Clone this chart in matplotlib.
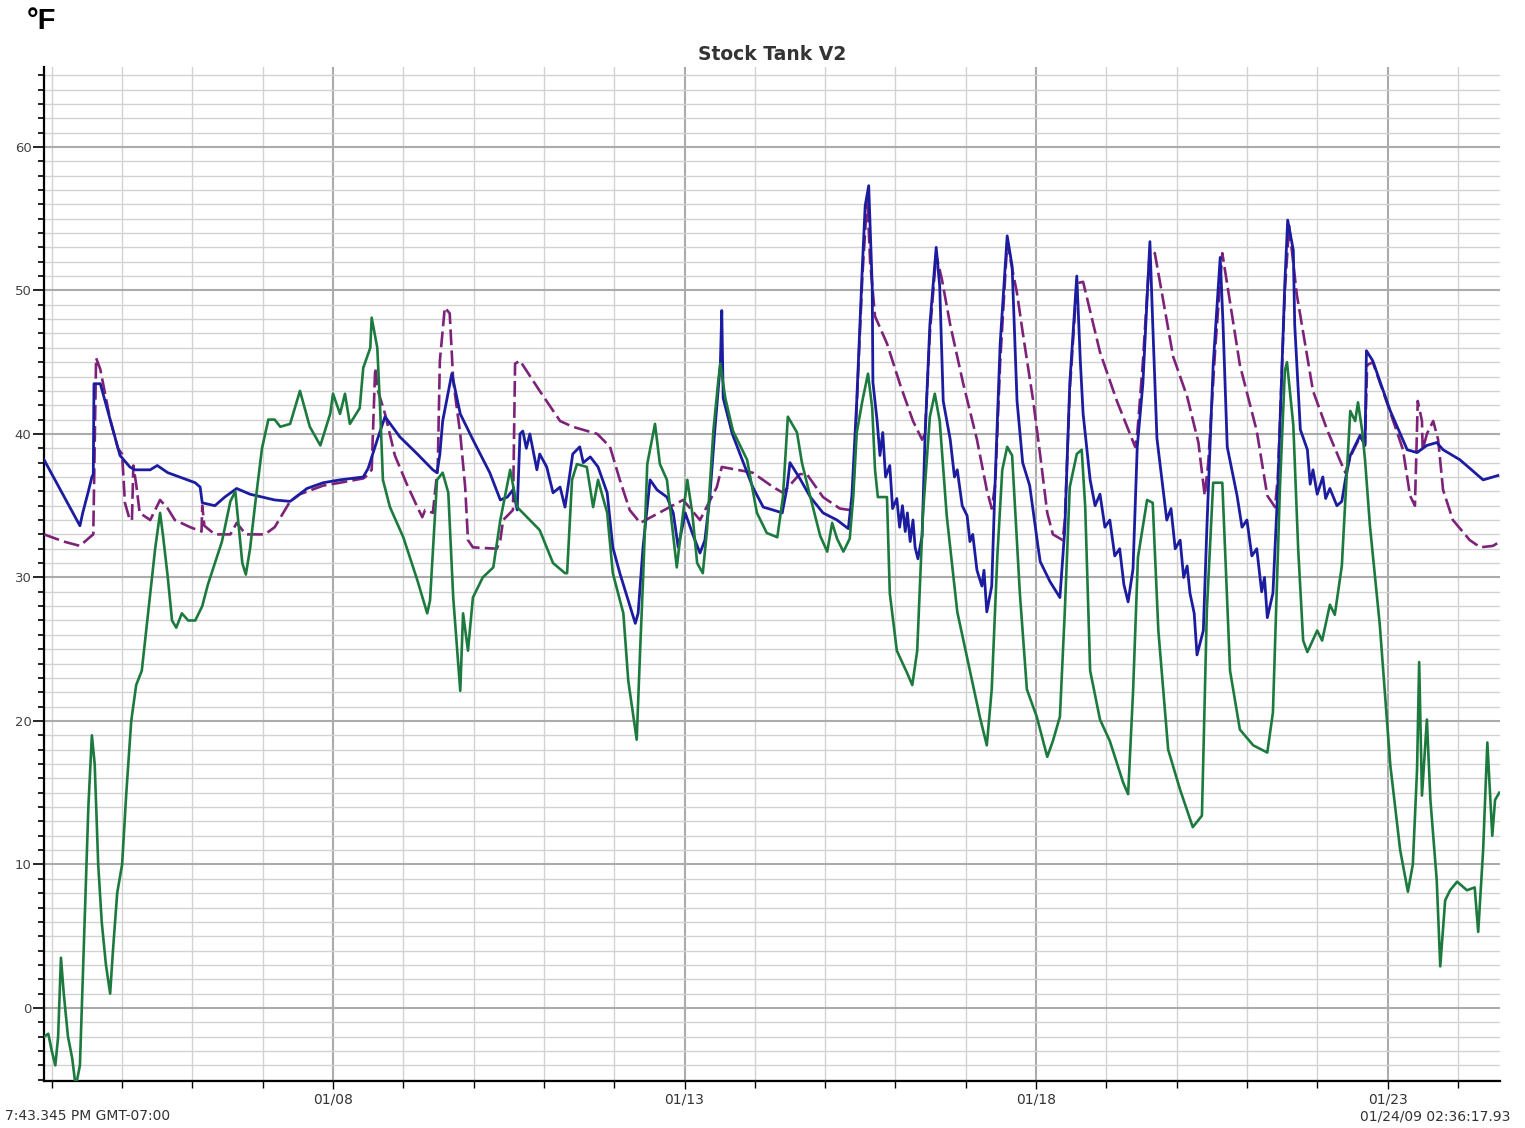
import matplotlib
matplotlib.use("Agg")
import matplotlib.pyplot as plt
from matplotlib.ticker import MultipleLocator, FixedLocator, FixedFormatter

# x values are day of month (January 2009), y values in °F
blue_day = [3.89, 4.40, 4.44, 4.52, 4.57, 4.59, 4.60, 4.69, 4.83, 4.97, 5.11, 5.18, 5.40, 5.50,
            5.65, 6.04, 6.11, 6.14, 6.32, 6.46, 6.63, 6.82, 7.17, 7.39, 7.63, 7.86, 8.10, 8.43,
            8.50, 8.63, 8.74, 8.95, 9.20, 9.42, 9.48, 9.52, 9.56, 9.69, 9.81, 9.99, 10.23, 10.38,
            10.48, 10.56, 10.62, 10.66, 10.70, 10.75, 10.80, 10.86, 10.90, 10.94, 11.04, 11.13, 11.23,
            11.30, 11.41, 11.51, 11.56, 11.66, 11.77, 11.90, 11.98, 12.08, 12.20, 12.30, 12.34,
            12.41, 12.51, 12.61, 12.75, 12.84, 12.91, 13.01, 13.11, 13.22, 13.29, 13.36, 13.43,
            13.51, 13.53, 13.55, 13.68, 13.79, 13.97, 14.12, 14.26, 14.39, 14.46, 14.50, 14.64,
            14.79, 14.97, 15.17, 15.33, 15.38, 15.45, 15.53, 15.57, 15.62, 15.67, 15.68, 15.74,
            15.78, 15.82, 15.86, 15.92, 15.96, 16.02, 16.06, 16.10, 16.14, 16.17, 16.21, 16.25,
            16.28, 16.32, 16.38, 16.42, 16.49, 16.58, 16.63, 16.68,
            16.78, 16.84, 16.88, 16.95, 17.02, 17.06, 17.10, 17.16, 17.23, 17.26, 17.30,
            17.37, 17.42, 17.49, 17.59, 17.66, 17.73,
            17.81, 17.91, 18.03, 18.06, 18.20, 18.34, 18.41, 18.48, 18.58, 18.63, 18.67, 18.77,
            18.84, 18.91, 18.98, 19.05, 19.12, 19.19, 19.25, 19.31, 19.38, 19.44, 19.52, 19.62,
            19.66, 19.72, 19.86, 19.92, 19.98, 20.05, 20.10, 20.15,
            20.19, 20.25, 20.29, 20.38, 20.43, 20.52, 20.62, 20.66, 20.72, 20.86,
            20.93, 21.00, 21.07, 21.14, 21.21, 21.25, 21.29,
            21.37, 21.44, 21.54, 21.58, 21.66, 21.68, 21.76, 21.86, 21.90, 21.94, 22.00, 22.08,
            22.12, 22.18, 22.28, 22.35,
            22.40, 22.47, 22.61, 22.68, 22.70, 22.79, 23.04, 23.28, 23.42, 23.56, 23.70, 23.79,
            24.03, 24.36, 24.57]
blue_temp = [38.2, 33.6, 34.5, 36.0, 37.0, 37.2, 43.5, 43.5, 41.0, 38.5, 37.7, 37.5, 37.5, 37.8,
             37.3, 36.6, 36.3, 35.2, 35.0, 35.6, 36.2, 35.8, 35.4, 35.3, 36.2, 36.6, 36.8, 37.0,
             37.6, 39.6, 41.2, 39.8, 38.6, 37.5, 37.3, 38.6, 40.9, 44.2, 41.4, 39.6, 37.3, 35.4,
             35.6, 36.1, 34.7, 40.0, 40.2, 39.0, 40.0, 38.5, 37.5, 38.6, 37.7, 35.9, 36.3,
             34.9, 38.6, 39.1, 38.0, 38.4, 37.7, 35.9, 32.1, 30.3, 28.4, 26.8, 27.5,
             32.1, 36.8, 36.1, 35.6, 34.5, 32.1, 34.5, 33.1, 31.7, 32.6, 35.6, 40.2,
             44.9, 48.6, 42.5, 40.0, 38.6, 36.3, 34.9, 34.7, 34.5, 36.3, 38.0, 36.9,
             35.6, 34.5, 34.0, 33.4, 35.6, 42.3, 51.7, 55.9, 57.3, 50.3, 43.6, 40.9,
             38.5, 40.1, 37.0, 37.8, 34.8, 35.5, 33.5, 35.0, 33.2, 34.5, 32.5, 34.0,
             32.1, 31.3, 32.9, 39.6, 47.6, 53.0, 50.3, 42.3,
             39.6, 37.0, 37.5, 35.0, 34.3, 32.5, 33.0, 30.5, 29.4, 30.5, 27.6,
             29.4, 36.9, 46.3, 53.8, 51.7, 42.3,
             38.0, 36.4, 32.1, 31.1, 29.7, 28.6, 33.4, 43.5, 51.0, 45.1, 41.4, 36.8,
             35.0, 35.8, 33.5, 34.0, 31.5, 32.0, 29.5, 28.3, 30.6, 39.1, 43.5, 53.4,
             47.7, 39.7, 34.0, 34.8, 32.0, 32.6, 30.0, 30.8,
             28.9, 27.5, 24.6, 26.3, 33.4, 44.8, 52.3, 47.7, 39.1, 35.7,
             33.5, 34.0, 31.5, 32.0, 29.0, 30.0, 27.2,
             28.9, 36.3, 50.6, 54.9, 52.8, 47.6, 40.3, 38.9, 36.5, 37.5, 35.8, 37.0,
             35.5, 36.2, 35.0, 35.3,
             36.8, 38.5, 39.9, 39.2, 45.8, 45.1, 41.6, 38.9, 38.7, 39.2, 39.4, 38.9,
             38.2, 36.8, 37.1]

purple_day = [3.89, 4.17, 4.40, 4.54, 4.59, 4.63, 4.69, 4.83, 4.94, 5.00, 5.04, 5.11, 5.14, 5.16,
              5.20, 5.25, 5.40, 5.54, 5.65, 5.75, 5.97, 6.13, 6.14, 6.17, 6.32, 6.54, 6.63, 6.76,
              7.03, 7.17, 7.39, 7.53, 7.86, 8.10, 8.43, 8.46, 8.55, 8.60, 8.64, 8.74, 8.88, 9.05,
              9.20, 9.27, 9.31, 9.42, 9.49, 9.52, 9.59, 9.66, 9.71, 9.81, 9.88, 9.92, 9.99, 10.33,
              10.38, 10.42, 10.56, 10.59, 10.66, 10.94, 11.23, 11.41, 11.76, 11.94, 12.08, 12.22,
              12.37, 12.98, 13.22, 13.46, 13.53, 13.97, 14.26, 14.40, 14.64, 14.74, 14.97, 15.21,
              15.35, 15.40, 15.45, 15.53, 15.60, 15.64, 15.71, 15.88, 16.07, 16.25, 16.38, 16.42,
              16.49, 16.58, 16.66, 16.78, 16.96, 17.16, 17.30, 17.37, 17.42, 17.49, 17.59, 17.73,
              17.81, 17.96, 18.06, 18.16, 18.24, 18.38, 18.41, 18.48, 18.58, 18.67, 18.91, 19.15,
              19.41, 19.44, 19.52, 19.62, 19.69, 19.95, 20.15, 20.31, 20.40, 20.45, 20.55, 20.65,
              20.90, 21.14, 21.29, 21.40, 21.44, 21.54, 21.60, 21.71, 21.94, 22.14, 22.32, 22.40,
              22.47, 22.61, 22.68, 22.71, 22.79, 23.04, 23.22, 23.32, 23.39, 23.43, 23.49, 23.50,
              23.56, 23.65, 23.72, 23.79, 23.93, 24.17, 24.32, 24.50, 24.60]
purple_temp = [33.0, 32.5, 32.2, 32.8, 33.0, 45.3, 44.5, 41.0, 39.0, 38.6, 35.2, 34.0, 34.0, 37.8,
               36.5, 34.5, 34.0, 35.4, 34.8, 34.0, 33.5, 33.2, 35.0, 33.6, 33.0, 33.0, 33.8, 33.0,
               33.0, 33.5, 35.3, 35.8, 36.4, 36.6, 36.9, 37.0, 37.5, 44.6, 43.0, 41.4, 38.5, 36.5,
               34.9, 34.2, 34.7, 34.5, 37.7, 45.1, 48.8, 48.4, 43.7, 40.0, 36.3, 32.6, 32.1, 32.0,
               32.6, 34.0, 34.7, 44.9, 45.1, 43.0, 40.9, 40.5, 40.0, 39.1, 36.8, 34.7,
               33.8, 35.4, 34.0, 36.3, 37.7, 37.3, 36.3, 35.9, 37.2, 37.2, 35.6, 34.8,
               34.7, 36.0, 42.0, 51.0, 56.5, 52.0, 48.2, 46.3, 43.4, 40.9, 39.6, 40.0,
               47.0, 52.5, 50.8, 47.6, 43.6, 39.6, 36.1, 34.8, 36.5, 45.0, 53.3, 49.8,
               47.1, 42.3, 38.5, 34.5, 33.0, 32.6, 34.0, 43.0, 50.5, 50.6, 45.7, 42.3,
               39.1, 40.0, 45.0, 52.8, 52.6, 45.4, 42.6, 39.4, 35.7, 38.0, 46.0, 52.6,
               44.8, 40.2, 35.7, 34.9, 37.0, 50.0, 54.5, 49.7, 43.0, 40.3, 38.2, 37.3,
               38.4, 39.8, 39.3, 44.8, 45.0, 41.5, 38.9, 35.7, 35.0, 42.3, 40.9, 38.9,
               40.0, 40.9, 39.6, 36.1, 34.0, 32.6, 32.1, 32.2, 32.5]

green_day = [3.89, 3.95, 4.00, 4.05, 4.09, 4.13, 4.17, 4.23, 4.29, 4.34, 4.40, 4.46, 4.52, 4.57,
             4.61, 4.66, 4.71, 4.77, 4.83, 4.87, 4.93, 5.00, 5.06, 5.13, 5.20, 5.28, 5.37, 5.47,
             5.54, 5.58, 5.65, 5.71, 5.77, 5.85, 5.94, 6.04, 6.14, 6.22, 6.32, 6.42, 6.54, 6.61,
             6.65, 6.71, 6.76, 6.82, 6.89, 6.99, 7.08, 7.17, 7.25, 7.39, 7.53, 7.67, 7.82, 7.96,
             8.00, 8.10, 8.17, 8.24, 8.38, 8.43, 8.53, 8.55, 8.63, 8.67, 8.71, 8.81, 9.00, 9.20,
             9.34, 9.38, 9.48, 9.56, 9.64, 9.71, 9.81, 9.85, 9.92, 9.99, 10.13, 10.28, 10.38,
             10.52, 10.62, 10.94, 11.13, 11.30, 11.33, 11.40, 11.47, 11.61, 11.70, 11.77, 11.90,
             11.98, 12.13, 12.20, 12.32, 12.37, 12.41, 12.47, 12.58, 12.65, 12.75, 12.89, 12.98,
             13.04, 13.11, 13.18, 13.26, 13.32, 13.41, 13.48, 13.51, 13.58, 13.69, 13.89, 14.03,
             14.17, 14.32, 14.40, 14.47, 14.60, 14.67, 14.79, 14.93, 15.03, 15.10, 15.17, 15.26,
             15.35, 15.40, 15.45, 15.53, 15.61, 15.67, 15.71, 15.75, 15.88, 15.92, 16.02, 16.17,
             16.24, 16.31, 16.39, 16.49, 16.56, 16.63, 16.73, 16.88, 17.06, 17.20, 17.30, 17.37,
             17.45, 17.52, 17.59, 17.66, 17.77, 17.87, 18.01, 18.16, 18.24, 18.34, 18.41, 18.48,
             18.58, 18.65, 18.70, 18.77, 18.91, 19.05, 19.24, 19.31, 19.38, 19.45, 19.58, 19.66,
             19.74, 19.88, 20.05, 20.23, 20.36, 20.43, 20.52, 20.65, 20.76, 20.90, 21.09, 21.29,
             21.37, 21.47, 21.54, 21.57, 21.66, 21.73, 21.80, 21.86, 22.00, 22.07, 22.18, 22.25,
             22.35, 22.40, 22.47, 22.54, 22.58, 22.64, 22.68, 22.75, 22.89, 23.04, 23.18, 23.29,
             23.36, 23.42, 23.45, 23.49, 23.56, 23.61, 23.70, 23.75, 23.82, 23.89, 23.99, 24.13,
             24.24, 24.29, 24.36, 24.42, 24.49, 24.53, 24.59]
green_temp = [-2.0, -1.8, -3.0, -4.0, -2.0, 3.5, 1.0, -2.0, -3.5, -5.5, -4.0, 5.0, 14.0, 19.0,
              17.0, 10.0, 6.0, 3.0, 1.0, 4.0, 8.0, 10.0, 15.0, 20.0, 22.5, 23.5, 27.5, 32.0,
              34.5, 33.0, 30.0, 27.0, 26.5, 27.5, 27.0, 27.0, 28.0, 29.5, 31.0, 32.5, 35.3, 36.0,
              34.0, 31.0, 30.2, 32.0, 35.0, 39.0, 41.0, 41.0, 40.5, 40.7, 43.0, 40.5, 39.2, 41.4,
              42.8, 41.4, 42.8, 40.7, 41.8, 44.6, 46.0, 48.1, 46.0, 41.8, 36.8, 34.9, 32.8, 29.8,
              27.5, 28.4, 36.8, 37.3, 35.9, 28.6, 22.1, 27.5, 24.9, 28.6, 30.0, 30.7, 34.0,
              37.5, 34.9, 33.3, 31.0, 30.3, 30.3, 36.8, 37.9, 37.7, 34.9, 36.8, 34.5,
              30.3, 27.5, 22.8, 18.7, 25.1, 29.8, 37.9, 40.7, 37.9, 36.8, 30.7, 34.5,
              36.8, 34.5, 31.0, 30.3, 33.3, 40.2, 43.7, 44.9, 42.5, 40.2, 38.2, 34.5,
              33.1, 32.8, 35.6, 41.2, 40.1, 38.0, 35.6, 32.9, 31.8, 33.8, 32.7, 31.8,
              32.7, 35.6, 40.1, 42.3, 44.2, 41.8, 37.5, 35.6, 35.6, 28.9, 24.9, 23.3,
              22.5, 24.9, 34.3, 41.2, 42.8, 40.9, 34.3, 27.6, 23.5, 20.3, 18.3, 22.2,
              31.5, 37.5, 39.1, 38.5, 28.9, 22.2, 20.3, 17.5, 18.6, 20.3, 27.7, 36.3,
              38.6, 38.9, 34.9, 23.5, 20.1, 18.6, 15.7, 14.9, 22.0, 31.4, 35.4, 35.2,
              26.3, 18.0, 15.2, 12.6, 13.4, 27.7, 36.6, 36.6, 23.5, 19.4, 18.3, 17.8,
              20.6, 36.3, 44.4, 45.0, 40.6, 31.9, 25.6, 24.8, 26.3, 25.6, 28.1, 27.4,
              30.8, 35.4, 41.6, 40.9, 42.2, 40.2, 38.2, 33.6, 26.7, 16.9, 11.0, 8.1,
              10.0, 16.6, 24.1, 14.8, 20.1, 14.5, 8.9, 2.9, 7.5, 8.2, 8.8, 8.2,
              8.4, 5.3, 11.0, 18.5, 12.0, 14.5, 15.0]

major_days = [8, 13, 18, 23]
major_labels = ["01/08", "01/13", "01/18", "01/23"]
y_labels = [0, 10, 20, 30, 40, 50, 60]

W, H = 1525, 1128
fig = plt.figure(figsize=(W / 100, H / 100), dpi=100)
fig.patch.set_facecolor("white")
ax = fig.add_axes([44 / W, 1 - 1081 / H, (1500 - 44) / W, (1081 - 67) / H])

ax.plot(purple_day, purple_temp, color="#7d2279", lw=1.9, dashes=(6, 2), zorder=3)
ax.plot(blue_day, blue_temp, color="#1c1ca0", lw=2.0, zorder=4)
ax.plot(green_day, green_temp, color="#1d7a3e", lw=1.9, zorder=5)

ax.set_xlim(3.889, 24.60)
ax.set_ylim(-5.09, 65.57)

# grid: every day / every degree, darker every 5 days / 10 degrees
ax.xaxis.set_major_locator(FixedLocator(major_days))
ax.xaxis.set_major_formatter(FixedFormatter(major_labels))
ax.xaxis.set_minor_locator(MultipleLocator(1))
ax.yaxis.set_major_locator(FixedLocator(y_labels))
ax.yaxis.set_minor_locator(MultipleLocator(1))
ax.grid(which="major", color="#ababab", lw=1.5, zorder=0)
ax.grid(which="minor", color="#d2d2d2", lw=1.0, zorder=0)
ax.set_axisbelow(True)

for s in ["top", "right"]:
    ax.spines[s].set_visible(False)
for s in ["left", "bottom"]:
    ax.spines[s].set_color("black")
    ax.spines[s].set_linewidth(1.6)

ax.tick_params(axis="y", which="major", length=8, width=1.2, pad=1,
               labelsize=9.5, labelcolor="#444444")
ax.tick_params(axis="y", which="minor", length=4, width=1.2)
ax.tick_params(axis="x", which="major", length=6, width=1.0, pad=2,
               labelsize=10, labelcolor="#333333")
ax.tick_params(axis="x", which="minor", length=5, width=1.0)

fig.text(772 / W, 1 - 54 / H, "Stock Tank V2", ha="center", va="center",
         fontsize=13.5, fontweight="bold", color="#333333")
fig.text(27 / W, 1 - 21 / H, "°F", ha="left", va="center", fontsize=21,
         fontweight="bold", family="Liberation Sans", color="black")
fig.text(5 / W, 1 - 1116 / H, "7:43.345 PM GMT-07:00", ha="left", va="center",
         fontsize=10, color="#333333")
fig.text(1360 / W, 1 - 1116 / H, "01/24/09 02:36:17.93", ha="left", va="center",
         fontsize=10, color="#333333")

fig.savefig("out.png", dpi=100, facecolor="white")
